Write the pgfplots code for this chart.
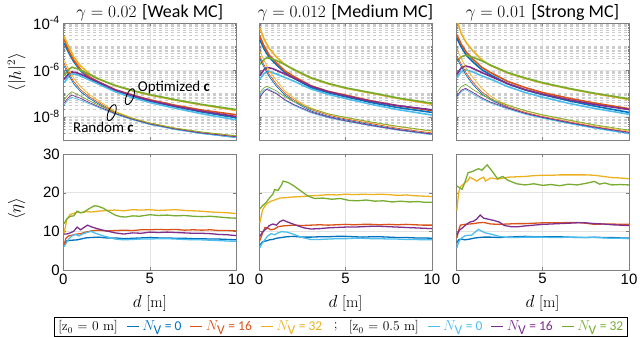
\documentclass[border=0pt]{standalone}
\usepackage{fontspec}
\setsansfont{Carlito}
\newfontfamily\arial{Liberation Sans}
\usepackage{pgfplots}
\pgfplotsset{compat=1.18}
\definecolor{cB}{rgb}{0,0.447,0.741}
\definecolor{cR}{rgb}{0.85,0.325,0.098}
\definecolor{cY}{rgb}{0.929,0.694,0.125}
\definecolor{cP}{rgb}{0.494,0.184,0.556}
\definecolor{cG}{rgb}{0.466,0.674,0.188}
\definecolor{cC}{rgb}{0.301,0.745,0.933}
\pgfplotsset{
  mybase/.style={scale only axis, width=173pt, xmin=0, xmax=10, xtick={0,5,10},
    tick align=inside, axis line style={black!50}, tick style={black!50},
    major tick length=3pt, minor tick length=1.5pt,
    major grid style={gray!22, line width=0.5pt},
    tick label style={font=\arial\fontsize{15}{16}\selectfont},
    /pgf/number format/assume math mode=true},
  mytop/.style={mybase, height=117pt, ymin=1e-9, ymax=1e-4,
    ytick={1e-8,1e-6,1e-4},
    minor ytick={2e-9,3e-9,4e-9,5e-9,6e-9,7e-9,8e-9,9e-9,2e-8,3e-8,4e-8,5e-8,6e-8,7e-8,8e-8,9e-8,1e-7,2e-7,3e-7,4e-7,5e-7,6e-7,7e-7,8e-7,9e-7,2e-6,3e-6,4e-6,5e-6,6e-6,7e-6,8e-6,9e-6,1e-5,2e-5,3e-5,4e-5,5e-5,6e-5,7e-5,8e-5,9e-5},
    grid=both, minor grid style={gray!40, dashed, line width=0.4pt},
    xticklabels={}, yticklabels={},
    every axis title shift=0pt,
    title style={font=\fontsize{18}{19}\selectfont, at={(axis description cs:0.5,1)}, anchor=south, inner sep=1pt, yshift=0.5pt}},
  mybot/.style={mybase, height=116pt, ymin=0, ymax=30, ytick={0,10,20,30}, grid=major,
    xlabel={$d$ [m]}, xlabel style={font=\fontsize{16}{18}\selectfont, at={(axis description cs:0.5,-0.29)}, anchor=center}},
  opt/.style={line width=1.6pt},
  rnd/.style={line width=0.7pt},
  lin/.style={line width=1.3pt},
}
\begin{document}
\begin{tikzpicture}
\path[use as bounding box] (0pt,0pt) rectangle (640pt,-337pt);

% ================= TOP LEFT =================
\begin{axis}[ymode=log, mytop, at={(63.3pt,-23pt)}, anchor=north west,
  yticklabels={10\textsuperscript{-8},10\textsuperscript{-6},10\textsuperscript{-4}},
  title={$\gamma = 0.02$ \textsf{[Weak MC]}},
  ylabel={$\langle|h|^2\rangle$}, ylabel style={font=\fontsize{16}{18}\selectfont, at={(axis description cs:-0.27,0.58)}, anchor=center}]
\addplot[cB,opt] coordinates {(0.05,1.41e-5)(0.3,5.62e-6)(0.6,2.24e-6)(1,9.12e-7)(1.5,4.37e-7)(2,2.69e-7)(3,1.23e-7)(4,7.24e-8)(5,4.57e-8)(6.5,2.63e-8)(8,1.58e-8)(10,8.91e-9)};
\addplot[cR,opt] coordinates {(0.05,1.95e-5)(0.3,7.08e-6)(0.6,2.63e-6)(1,1.02e-6)(1.5,5.01e-7)(2,3.16e-7)(3,1.41e-7)(4,8.32e-8)(5,5.25e-8)(6.5,3.02e-8)(8,1.91e-8)(10,1.20e-8)};
\addplot[cY,opt] coordinates {(0.05,2.69e-5)(0.3,1e-5)(0.6,3.55e-6)(1,1.45e-6)(1.5,6.76e-7)(2,4.17e-7)(3,2.09e-7)(4,1.26e-7)(5,8.32e-8)(6.5,5.01e-8)(8,3.16e-8)(10,1.82e-8)};
\addplot[cC,opt] coordinates {(0.05,2.82e-7)(0.3,5.01e-7)(0.5,6.76e-7)(0.8,6.17e-7)(1.2,4.68e-7)(1.7,3.16e-7)(2,2.51e-7)(3,1.15e-7)(4,6.46e-8)(5,3.98e-8)(6.5,2.24e-8)(8,1.32e-8)(10,7.24e-9)};
\addplot[cP,opt] coordinates {(0.05,3.98e-7)(0.3,6.61e-7)(0.5,8.13e-7)(0.8,7.41e-7)(1.2,5.62e-7)(1.7,3.80e-7)(2,3.02e-7)(3,1.38e-7)(4,7.94e-8)(5,4.90e-8)(6.5,2.75e-8)(8,1.70e-8)(10,1e-8)};
\addplot[cG,opt] coordinates {(0.05,5.62e-7)(0.3,1e-6)(0.5,1.29e-6)(0.8,1.12e-6)(1.2,8.32e-7)(1.7,5.37e-7)(2,4.17e-7)(3,2.14e-7)(4,1.32e-7)(5,8.71e-8)(6.5,5.25e-8)(8,3.31e-8)(10,2.0e-8)};
\addplot[cB,rnd] coordinates {(0.05,1.41e-6)(0.3,6.31e-7)(0.6,2.51e-7)(1,1.17e-7)(1.5,6.03e-8)(2,3.63e-8)(2.5,2.24e-8)(3,1.38e-8)(4,7.59e-9)(5,4.68e-9)(6.5,2.82e-9)(8,1.91e-9)(10,1.26e-9)};
\addplot[cR,rnd] coordinates {(0.05,1.78e-6)(0.3,7.94e-7)(0.6,3.16e-7)(1,1.41e-7)(1.5,7.08e-8)(2,4.17e-8)(2.5,2.51e-8)(3,1.51e-8)(4,8.13e-9)(5,5.01e-9)(6.5,3.02e-9)(8,2.04e-9)(10,1.38e-9)};
\addplot[cY,rnd] coordinates {(0.05,2.51e-6)(0.3,1.12e-6)(0.6,4.47e-7)(1,1.91e-7)(1.5,8.91e-8)(2,5.01e-8)(2.5,2.82e-8)(3,1.66e-8)(4,8.71e-9)(5,5.37e-9)(6.5,3.24e-9)(8,2.19e-9)(10,1.51e-9)};
\addplot[cC,rnd] coordinates {(0.05,3.16e-8)(0.3,5.37e-8)(0.5,6.61e-8)(1,5.01e-8)(1.5,3.55e-8)(2,2.51e-8)(3,1.26e-8)(4,7.24e-9)(5,4.57e-9)(6.5,2.75e-9)(8,1.86e-9)(10,1.26e-9)};
\addplot[cP,rnd] coordinates {(0.05,3.80e-8)(0.3,6.61e-8)(0.5,8.32e-8)(1,6.03e-8)(1.5,3.98e-8)(2,2.75e-8)(3,1.35e-8)(4,7.76e-9)(5,4.90e-9)(6.5,2.95e-9)(8,2.0e-9)(10,1.38e-9)};
\addplot[cG,rnd] coordinates {(0.05,5.25e-8)(0.3,8.91e-8)(0.5,1.15e-7)(1,7.59e-8)(1.5,4.79e-8)(2,3.16e-8)(3,1.48e-8)(4,8.32e-9)(5,5.25e-9)(6.5,3.16e-9)(8,2.19e-9)(10,1.51e-9)};
\draw[line width=0.9pt] (axis cs:3.85,7.1e-8) ellipse [x radius=3.5pt, y radius=8.5pt, rotate=-22];
\draw[line width=0.9pt] (axis cs:2.8,1.48e-8) ellipse [x radius=3.5pt, y radius=8.5pt, rotate=-22];
\node[anchor=west, font=\sffamily\fontsize{15}{16}\selectfont, inner sep=0pt] at (axis cs:4.3,1.7e-7) {Optimized \textbf{c}};
\node[anchor=center, font=\sffamily\fontsize{15}{16}\selectfont, inner sep=0pt] at (axis cs:2.32,3.4e-9) {Random \textbf{c}};
\end{axis}

% ================= TOP MIDDLE =================
\begin{axis}[ymode=log, mytop, at={(259pt,-23pt)}, anchor=north west,
  title={$\gamma = 0.012$ \textsf{[Medium MC]}}]
\addplot[cB,opt] coordinates {(0.05,1.91e-5)(0.3,7.59e-6)(0.6,3.31e-6)(1,1.66e-6)(1.5,7.59e-7)(2,4.47e-7)(3,1.74e-7)(4,1.05e-7)(5,7.08e-8)(6.5,3.98e-8)(8,2.45e-8)(10,1.51e-8)};
\addplot[cR,opt] coordinates {(0.05,2.69e-5)(0.3,1e-5)(0.6,4.17e-6)(1,2.0e-6)(1.5,8.91e-7)(2,5.25e-7)(3,2.09e-7)(4,1.20e-7)(5,8.32e-8)(6.5,4.68e-8)(8,2.95e-8)(10,1.82e-8)};
\addplot[cY,opt] coordinates {(0.05,6.17e-5)(0.3,2.0e-5)(0.6,7.94e-6)(1,3.55e-6)(1.5,1.66e-6)(2,1e-6)(3,4.37e-7)(4,2.51e-7)(5,1.62e-7)(6.5,1e-7)(8,6.03e-8)(10,3.39e-8)};
\addplot[cC,opt] coordinates {(0.05,3.98e-7)(0.3,7.08e-7)(0.55,8.71e-7)(1,6.61e-7)(1.5,4.68e-7)(2,3.31e-7)(3,1.51e-7)(4,8.91e-8)(5,5.89e-8)(6.5,3.31e-8)(8,2.0e-8)(10,1.17e-8)};
\addplot[cP,opt] coordinates {(0.05,5.62e-7)(0.3,1.05e-6)(0.5,1.26e-6)(0.8,1.12e-6)(1,9.55e-7)(1.5,6.61e-7)(2,4.47e-7)(3,2.0e-7)(4,1.15e-7)(5,7.76e-8)(6.5,4.47e-8)(8,2.95e-8)(10,1.95e-8)};
\addplot[cG,opt] coordinates {(0.05,1.70e-6)(0.3,2.82e-6)(0.45,3.24e-6)(0.7,3.02e-6)(1,2.51e-6)(1.5,1.66e-6)(2,1.05e-6)(3,4.57e-7)(4,2.63e-7)(5,1.70e-7)(6.5,1.05e-7)(8,6.31e-8)(10,3.72e-8)};
\addplot[cB,rnd] coordinates {(0.05,2.82e-6)(0.3,1.26e-6)(0.6,5.01e-7)(1,2.0e-7)(1.5,8.32e-8)(2,4.47e-8)(2.5,2.75e-8)(3,1.74e-8)(4,1.02e-8)(5,7.24e-9)(6.5,4.47e-9)(8,2.88e-9)(10,1.82e-9)};
\addplot[cR,rnd] coordinates {(0.05,3.55e-6)(0.3,1.58e-6)(0.6,6.31e-7)(1,2.51e-7)(1.5,1e-7)(2,5.25e-8)(2.5,3.16e-8)(3,2.0e-8)(4,1.15e-8)(5,7.94e-9)(6.5,5.01e-9)(8,3.16e-9)(10,2.0e-9)};
\addplot[cY,rnd] coordinates {(0.05,6.17e-6)(0.3,2.51e-6)(0.6,8.91e-7)(1,3.55e-7)(1.5,1.26e-7)(2,6.31e-8)(2.5,3.55e-8)(3,2.34e-8)(4,1.29e-8)(5,8.91e-9)(6.5,5.62e-9)(8,3.72e-9)(10,2.34e-9)};
\addplot[cC,rnd] coordinates {(0.05,8.32e-8)(0.3,1.38e-7)(0.5,1.58e-7)(1,1e-7)(1.5,5.01e-8)(2,3.02e-8)(3,1.45e-8)(4,8.91e-9)(5,6.31e-9)(6.5,3.98e-9)(8,2.63e-9)(10,1.66e-9)};
\addplot[cP,rnd] coordinates {(0.05,6.61e-8)(0.3,1.20e-7)(0.45,1.45e-7)(1,9.55e-8)(1.5,5.25e-8)(2,3.31e-8)(3,1.58e-8)(4,9.55e-9)(5,6.61e-9)(6.5,4.17e-9)(8,2.75e-9)(10,1.78e-9)};
\addplot[cG,rnd] coordinates {(0.05,1.05e-7)(0.3,1.74e-7)(0.45,2.0e-7)(1,1.26e-7)(1.5,7.08e-8)(2,4.37e-8)(3,2.19e-8)(4,1.32e-8)(5,9.33e-9)(6.5,5.89e-9)(8,3.89e-9)(10,2.45e-9)};
\end{axis}

% ================= TOP RIGHT =================
\begin{axis}[ymode=log, mytop, at={(456pt,-23pt)}, anchor=north west,
  title={$\gamma = 0.01$ \textsf{[Strong MC]}}]
\addplot[cB,opt] coordinates {(0.05,2.24e-5)(0.3,9.55e-6)(0.6,4.17e-6)(1,2.09e-6)(1.5,1e-6)(2,6.03e-7)(3,2.51e-7)(4,1.38e-7)(5,8.71e-8)(6.5,4.79e-8)(8,2.82e-8)(10,1.51e-8)};
\addplot[cR,opt] coordinates {(0.05,3.16e-5)(0.3,1.26e-5)(0.6,5.62e-6)(1,2.75e-6)(1.5,1.26e-6)(2,7.59e-7)(3,3.16e-7)(4,1.74e-7)(5,1.07e-7)(6.5,6.17e-8)(8,3.80e-8)(10,2.19e-8)};
\addplot[cY,opt] coordinates {(0.05,1.41e-4)(0.1,1.07e-4)(0.3,3.55e-5)(0.6,1.41e-5)(1,6.17e-6)(1.5,2.63e-6)(2,1.51e-6)(3,7.24e-7)(4,4.27e-7)(5,2.69e-7)(6.5,1.55e-7)(8,9.55e-8)(10,5.37e-8)};
\addplot[cC,opt] coordinates {(0.05,4.57e-7)(0.3,8.32e-7)(0.55,1.02e-6)(1,7.94e-7)(1.5,5.50e-7)(2,3.98e-7)(3,1.91e-7)(4,1.07e-7)(5,6.76e-8)(6.5,3.72e-8)(8,2.24e-8)(10,1.26e-8)};
\addplot[cP,opt] coordinates {(0.05,6.31e-7)(0.3,1.20e-6)(0.55,1.45e-6)(0.8,1.32e-6)(1,1.12e-6)(1.5,7.59e-7)(2,5.25e-7)(3,2.51e-7)(4,1.41e-7)(5,9.12e-8)(6.5,5.25e-8)(8,3.31e-8)(10,2.0e-8)};
\addplot[cG,opt] coordinates {(0.05,2.34e-6)(0.3,3.55e-6)(0.55,4.17e-6)(0.8,3.80e-6)(1,3.39e-6)(1.5,2.40e-6)(2,1.58e-6)(3,7.59e-7)(4,4.47e-7)(5,2.82e-7)(6.5,1.62e-7)(8,1e-7)(10,5.75e-8)};
\addplot[cB,rnd] coordinates {(0.05,3.02e-6)(0.3,1.41e-6)(0.6,5.62e-7)(1,2.24e-7)(1.5,9.33e-8)(2,5.25e-8)(2.5,3.47e-8)(3,2.40e-8)(4,1.38e-8)(5,9.12e-9)(6.5,5.37e-9)(8,3.31e-9)(10,1.91e-9)};
\addplot[cR,rnd] coordinates {(0.05,3.80e-6)(0.3,1.78e-6)(0.6,7.08e-7)(1,2.82e-7)(1.5,1.12e-7)(2,6.03e-8)(2.5,3.80e-8)(3,2.63e-8)(4,1.51e-8)(5,1e-8)(6.5,6.03e-9)(8,3.72e-9)(10,2.19e-9)};
\addplot[cY,rnd] coordinates {(0.05,7.41e-6)(0.3,3.16e-6)(0.6,1.12e-6)(1,4.47e-7)(1.5,1.58e-7)(2,7.59e-8)(2.5,4.47e-8)(3,3.16e-8)(4,1.74e-8)(5,1.15e-8)(6.5,6.92e-9)(8,4.17e-9)(10,2.40e-9)};
\addplot[cC,rnd] coordinates {(0.05,6.46e-8)(0.3,1.17e-7)(0.55,1.45e-7)(1,8.91e-8)(1.5,5.50e-8)(2,3.80e-8)(3,2.09e-8)(4,1.26e-8)(5,8.51e-9)(6.5,5.01e-9)(8,3.16e-9)(10,1.82e-9)};
\addplot[cP,rnd] coordinates {(0.05,7.59e-8)(0.3,1.32e-7)(0.55,1.62e-7)(1,1.05e-7)(1.5,6.31e-8)(2,4.17e-8)(3,2.29e-8)(4,1.38e-8)(5,9.33e-9)(6.5,5.62e-9)(8,3.55e-9)(10,2.09e-9)};
\addplot[cG,rnd] coordinates {(0.05,1.05e-7)(0.3,1.91e-7)(0.55,2.40e-7)(1,1.41e-7)(1.5,8.32e-8)(2,5.62e-8)(3,3.02e-8)(4,1.82e-8)(5,1.20e-8)(6.5,7.24e-9)(8,4.47e-9)(10,2.63e-9)};
\end{axis}

% ================= BOTTOM LEFT =================
\begin{axis}[mybot, at={(63.3pt,-154pt)}, anchor=north west,
  ylabel={$\langle\eta\rangle$}, ylabel style={font=\fontsize{16}{18}\selectfont, at={(axis description cs:-0.27,0.53)}, anchor=center}]
\addplot[cB,lin] coordinates {(0.05,6.6)(0.15,7.5)(0.3,7.6)(0.5,7.7)(0.8,7.8)(1.0,8.0)(1.3,8.3)(1.6,8.4)(2.0,8.5)(2.5,8.3)(3.0,8.3)(3.5,8.1)(4.0,8.2)(4.5,8.3)(5.0,8.4)(5.5,8.3)(6.0,8.3)(6.5,8.2)(7.0,8.2)(7.5,8.1)(8.0,8.1)(8.5,8.0)(9.0,8.0)(9.5,7.9)(10,7.8)};
\addplot[cR,lin] coordinates {(0.05,6.5)(0.15,8.2)(0.3,8.8)(0.5,9.0)(0.8,9.3)(1.0,9.4)(1.3,9.8)(1.6,10.1)(2.0,10.3)(2.5,10.1)(3.0,10.2)(3.5,10.3)(4.0,10.2)(4.5,10.4)(5.0,10.4)(5.5,10.5)(6.0,10.4)(6.5,10.5)(7.0,10.3)(7.5,10.4)(8.0,10.3)(8.5,10.4)(9.0,10.2)(9.5,10.2)(10,10.1)};
\addplot[cY,lin] coordinates {(0.05,9.5)(0.2,13.0)(0.4,14.4)(0.6,14.6)(0.8,15.0)(1.0,14.8)(1.3,15.1)(1.6,15.0)(2.0,15.2)(2.5,15.4)(3.0,15.5)(3.5,15.3)(4.0,15.6)(4.5,15.5)(5.0,15.6)(5.5,15.4)(6.0,15.5)(6.5,15.6)(7.0,15.4)(7.5,15.3)(8.0,15.2)(8.5,15.0)(9.0,14.9)(9.5,14.8)(10,14.6)};
\addplot[cC,lin] coordinates {(0.05,6.0)(0.2,7.2)(0.35,8.2)(0.5,8.8)(0.7,9.2)(0.9,8.8)(1.1,9.3)(1.3,9.6)(1.6,10.0)(1.8,9.6)(2.0,9.3)(2.3,8.8)(2.6,8.5)(3.0,8.0)(3.5,7.8)(4.0,7.9)(4.5,8.0)(5.0,8.0)(5.5,8.1)(6.0,8.1)(6.5,8.0)(7.0,7.9)(7.5,7.8)(8.0,7.8)(8.5,7.7)(9.0,7.6)(9.5,7.5)(10,7.4)};
\addplot[cP,lin] coordinates {(0.05,9.3)(0.2,9.3)(0.4,9.6)(0.6,10.0)(0.8,11.1)(1.0,10.4)(1.2,11.0)(1.4,11.6)(1.6,11.2)(1.8,10.9)(2.2,10.4)(2.6,10.0)(3.0,9.6)(3.5,9.3)(4.0,9.6)(4.5,9.5)(5.0,9.8)(5.5,9.7)(6.0,9.8)(6.5,9.7)(7.0,9.6)(7.5,9.5)(8.0,9.5)(8.5,9.4)(9.0,9.2)(9.5,9.1)(10,8.9)};
\addplot[cG,lin] coordinates {(0.05,12.0)(0.2,13.2)(0.4,13.9)(0.6,14.0)(0.8,15.2)(1.0,14.8)(1.2,15.0)(1.5,15.9)(1.8,16.6)(2.0,16.5)(2.3,16.0)(2.6,15.2)(3.0,14.2)(3.3,13.8)(3.6,13.7)(4.0,14.0)(4.4,13.9)(5.0,14.3)(5.5,14.1)(6.0,14.2)(6.5,14.0)(7.0,14.1)(7.5,13.9)(8.0,13.8)(8.5,13.9)(9.0,13.7)(9.5,13.5)(10,13.4)};
\end{axis}

% ================= BOTTOM MIDDLE (with legend) =================
\begin{axis}[mybot, at={(259pt,-154pt)}, anchor=north west, yticklabels={},
  legend columns=9,
  legend image code/.code={\draw[#1, line width=1pt] (0pt,0pt) -- (12pt,0pt);},
  legend style={at={(axis description cs:0.47,-0.405)}, anchor=north, draw=black, line width=0.6pt,
    font=\fontsize{13.5}{15}\selectfont, inner sep=1.5pt,
    /tikz/every even column/.append style={column sep=6.5pt},
    /tikz/every odd column/.append style={column sep=1pt}}]
\addlegendimage{empty legend}\addlegendentry{[z$_0$ = 0 m]}
\addplot[cB,lin] coordinates {(0.05,6.4)(0.2,7.3)(0.4,7.5)(0.6,7.8)(0.8,7.9)(1.0,8.2)(1.3,8.4)(1.6,8.6)(2.0,8.7)(2.5,8.5)(3.0,8.5)(3.5,8.6)(4.0,8.6)(4.5,8.7)(5.0,8.7)(5.5,8.6)(6.0,8.5)(6.5,8.6)(7.0,8.6)(7.5,8.5)(8.0,8.4)(8.5,8.4)(9.0,8.3)(9.5,8.3)(10,8.2)};
\addlegendentry{\textcolor{cB}{$N_{\textsf{V}}$\sffamily\ = 0}}
\addplot[cR,lin] coordinates {(0.05,7.6)(0.2,9.5)(0.35,11.0)(0.5,10.8)(0.7,10.4)(0.9,10.6)(1.1,11.2)(1.4,11.4)(1.7,11.5)(2.0,11.6)(2.5,11.5)(3.0,11.6)(3.5,11.7)(4.0,11.6)(4.5,11.7)(5.0,11.8)(5.5,11.7)(6.0,11.8)(6.5,11.8)(7.0,11.7)(7.5,11.8)(8.0,11.7)(8.5,11.8)(9.0,11.7)(9.5,11.6)(10,11.6)};
\addlegendentry{\textcolor{cR}{$N_{\textsf{V}}$\sffamily\ = 16}}
\addplot[cY,lin] coordinates {(0.05,12.2)(0.2,15.5)(0.35,16.6)(0.5,17.3)(0.7,17.8)(0.9,18.1)(1.2,18.6)(1.5,18.7)(2.0,18.9)(2.5,19.0)(3.0,19.2)(3.5,19.3)(4.0,19.5)(4.5,19.4)(5.0,19.6)(5.5,19.5)(6.0,19.6)(6.5,19.5)(7.0,19.6)(7.5,19.5)(8.0,19.3)(8.5,19.4)(9.0,19.2)(9.5,19.1)(10,19.0)};
\addlegendentry{\textcolor{cY}{$N_{\textsf{V}}$\sffamily\ = 32}}
\addlegendimage{empty legend}\addlegendentry{;}
\addlegendimage{empty legend}\addlegendentry{[z$_0$ = 0.5 m]}
\addplot[cC,lin] coordinates {(0.05,5.8)(0.2,7.0)(0.35,7.9)(0.5,8.8)(0.7,9.4)(0.9,9.1)(1.1,9.6)(1.3,9.9)(1.6,9.8)(1.9,9.4)(2.2,8.9)(2.5,8.4)(3.0,7.9)(3.5,7.9)(4.0,8.0)(4.5,8.1)(5.0,8.1)(5.5,8.2)(6.0,8.2)(6.5,8.1)(7.0,8.1)(7.5,8.0)(8.0,8.0)(8.5,7.9)(9.0,7.9)(9.5,7.8)(10,7.8)};
\addlegendentry{\textcolor{cC}{$N_{\textsf{V}}$\sffamily\ = 0}}
\addplot[cP,lin] coordinates {(0.05,8.7)(0.2,9.8)(0.4,10.6)(0.6,11.5)(0.8,11.9)(1.0,11.6)(1.2,12.5)(1.4,12.9)(1.6,12.5)(1.9,12.0)(2.2,11.5)(2.6,10.9)(3.0,10.6)(3.5,10.7)(4.0,10.9)(4.5,11.0)(5.0,11.1)(5.5,11.1)(6.0,11.2)(6.5,11.3)(7.0,11.3)(7.5,11.2)(8.0,11.1)(8.5,11.0)(9.0,10.9)(9.5,10.8)(10,10.7)};
\addlegendentry{\textcolor{cP}{$N_{\textsf{V}}$\sffamily\ = 16}}
\addplot[cG,lin] coordinates {(0.05,15.8)(0.2,16.6)(0.4,17.4)(0.6,18.6)(0.8,19.6)(0.9,20.8)(1.1,20.6)(1.3,22.0)(1.4,23.0)(1.7,22.6)(2.0,21.8)(2.4,20.5)(2.8,19.2)(3.2,18.5)(3.7,18.6)(4.2,18.3)(4.7,18.5)(5.2,18.0)(5.7,17.9)(6.2,18.1)(6.7,17.8)(7.2,17.9)(7.7,17.6)(8.2,17.8)(8.7,17.6)(9.2,17.7)(9.6,17.5)(10,17.5)};
\addlegendentry{\textcolor{cG}{$N_{\textsf{V}}$\sffamily\ = 32}}
\end{axis}

% ================= BOTTOM RIGHT =================
\begin{axis}[mybot, at={(456pt,-154pt)}, anchor=north west, yticklabels={}]
\addplot[cB,lin] coordinates {(0.05,7.0)(0.15,7.8)(0.3,8.0)(0.5,7.8)(0.8,8.0)(1.0,8.2)(1.3,8.4)(1.6,8.5)(2.0,8.5)(2.5,8.4)(3.0,8.5)(3.5,8.6)(4.0,8.7)(4.5,8.6)(5.0,8.6)(5.5,8.6)(6.0,8.6)(6.5,8.5)(7.0,8.4)(7.5,8.4)(8.0,8.5)(8.5,8.4)(9.0,8.4)(9.5,8.3)(10,8.3)};
\addplot[cR,lin] coordinates {(0.05,8.3)(0.15,10.2)(0.25,11.6)(0.5,11.8)(0.8,11.9)(1.0,12.0)(1.3,12.2)(1.6,12.3)(2.0,11.9)(2.5,11.8)(3.0,11.9)(3.5,12.0)(4.0,12.0)(4.5,12.1)(5.0,12.2)(5.5,12.2)(6.0,12.2)(6.5,12.3)(7.0,12.3)(7.5,12.1)(8.0,11.8)(8.5,11.9)(9.0,11.9)(9.5,11.8)(10,11.8)};
\addplot[cY,lin] coordinates {(0.05,15.4)(0.15,20.0)(0.25,21.5)(0.5,22.5)(0.7,23.2)(0.8,24.0)(1.0,23.5)(1.2,23.0)(1.4,23.6)(1.6,24.0)(1.7,23.0)(2.0,23.8)(2.4,23.5)(3.0,24.0)(3.5,24.1)(4.0,24.2)(4.5,24.4)(5.0,24.5)(5.5,24.5)(6.0,24.6)(6.5,24.6)(7.0,24.6)(7.5,24.6)(8.0,24.5)(8.5,24.2)(9.0,23.9)(9.5,23.8)(10,23.6)};
\addplot[cC,lin] coordinates {(0.05,5.7)(0.15,7.2)(0.3,8.2)(0.5,8.8)(0.7,9.0)(0.9,9.0)(1.1,9.8)(1.3,10.5)(1.5,10.0)(1.7,9.6)(2.0,9.3)(2.5,8.7)(3.0,8.4)(3.5,8.4)(4.0,8.5)(4.5,8.5)(5.0,8.5)(5.5,8.4)(6.0,8.4)(6.5,8.5)(7.0,8.5)(7.5,8.4)(8.0,8.4)(8.5,8.3)(9.0,8.2)(9.5,8.2)(10,8.1)};
\addplot[cP,lin] coordinates {(0.05,9.1)(0.2,10.3)(0.4,11.0)(0.6,11.8)(0.8,12.4)(1.0,12.6)(1.2,13.2)(1.4,14.2)(1.6,13.4)(1.9,13.1)(2.2,12.8)(2.5,12.4)(2.8,11.5)(3.2,11.2)(3.6,11.2)(4.0,11.4)(4.5,11.6)(5.0,11.8)(5.5,11.9)(6.0,12.0)(6.5,12.1)(7.0,12.2)(7.5,12.2)(8.0,12.0)(8.5,11.9)(9.0,11.7)(9.5,11.6)(10,11.5)};
\addplot[cG,lin] coordinates {(0.05,21.7)(0.2,21.3)(0.35,20.9)(0.5,22.5)(0.7,25.2)(0.9,25.4)(1.1,25.8)(1.3,26.2)(1.5,25.8)(1.8,27.2)(2.1,25.5)(2.4,23.6)(2.7,24.2)(3.0,23.2)(3.5,22.3)(4.0,22.0)(4.5,22.3)(5.0,21.9)(5.5,22.1)(6.0,21.8)(6.5,22.2)(7.0,22.0)(7.5,22.4)(8.0,22.9)(8.3,22.2)(8.6,22.5)(9.0,22.0)(9.5,22.1)(10,22.0)};
\end{axis}
\end{tikzpicture}
\end{document}
